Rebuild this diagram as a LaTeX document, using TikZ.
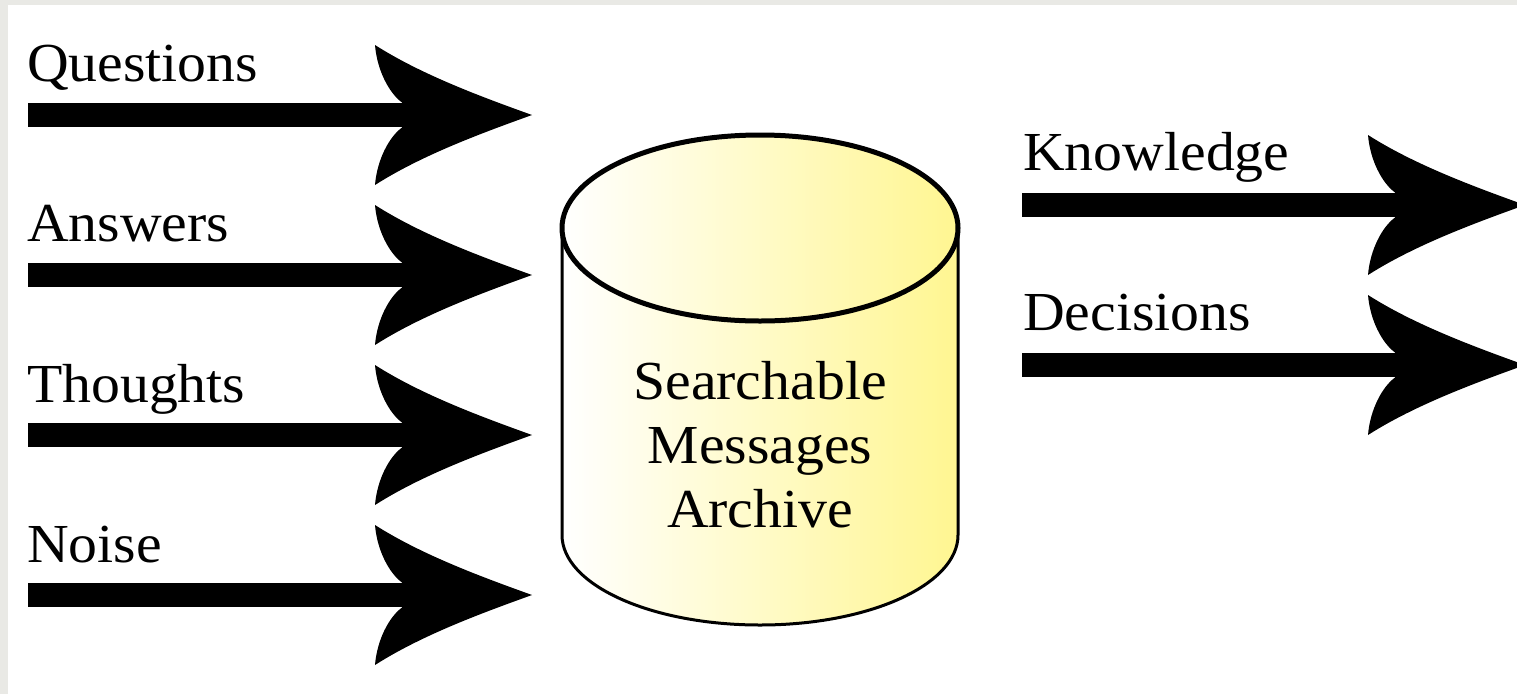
\documentclass[tikz,border=0pt]{standalone}
\usepackage{fontspec}
\setmainfont[FakeStretch=1.05]{Liberation Serif}
\definecolor{framegrey}{RGB}{233,233,229}
\definecolor{cylyellow}{RGB}{255,246,145}
\tikzset{
  lbl/.style={anchor=base west, inner sep=0pt, font=\fontsize{55}{64}\selectfont},
  shaftline/.style={line width=24pt, black},
  headpic/.pic={
    \fill[black] (0,0) .. controls (-50,18) and (-110,40) .. (-157,70)
      .. controls (-155,45) and (-143,22) .. (-130,12.5)
      -- (-130,-12.5)
      .. controls (-143,-22) and (-155,-45) .. (-157,-70)
      .. controls (-110,-40) and (-50,-18) .. (0,0) -- cycle;
  }
}
\begin{document}
\begin{tikzpicture}[x=1pt,y=1pt]
\useasboundingbox (0,0) rectangle (1517,-694);
\clip (0,0) rectangle (1517,-694);
% frame
\fill[framegrey] (0,0) rectangle (1517,-694);
\fill[white] (8,-5) rectangle (1517,-694);

% cylinder
\shade[left color=white, right color=cylyellow]
  (562,-228) -- (562,-535) arc[start angle=180, end angle=360, x radius=198, y radius=90]
  -- (958,-228) arc[start angle=0, end angle=180, x radius=198, y radius=93] -- cycle;
\draw[line width=3pt] (562,-228) -- (562,-535) arc[start angle=180, end angle=360, x radius=198, y radius=90] -- (958,-228);
\draw[line width=5pt] (760,-228) ellipse[x radius=198, y radius=93];
\node[align=center, inner sep=0pt, font=\fontsize{55}{64}\selectfont] (archive) at (760,-445) {Searchable\\Messages\\Archive};

% left labels
\node[lbl] (lq) at (27,-81) {Questions};
\node[lbl] (la) at (27,-241) {Answers};
\node[lbl] (lt) at (27,-402) {Thoughts};
\node[lbl] (ln) at (27,-562) {Noise};
% right labels
\node[lbl] (lk) at (1023,-170) {Knowledge};
\node[lbl] (ld) at (1023,-330) {Decisions};

% left arrows
\foreach \n/\y in {q/115, a/275, t/435, n/595}{
  \coordinate (\n s) at (28,-\y);
  \coordinate (\n m) at (410,-\y);
  \coordinate (\n e) at (532,-\y);
  \draw[shaftline] (\n s) -- (\n m);
  \pic at (\n e) {headpic};
}
% right arrows
\foreach \n/\y in {k/205, d/365}{
  \coordinate (\n s) at (1022,-\y);
  \coordinate (\n m) at (1403,-\y);
  \coordinate (\n e) at (1525,-\y);
  \draw[shaftline] (\n s) -- (\n m);
  \pic at (\n e) {headpic};
}
\end{tikzpicture}
\end{document}
